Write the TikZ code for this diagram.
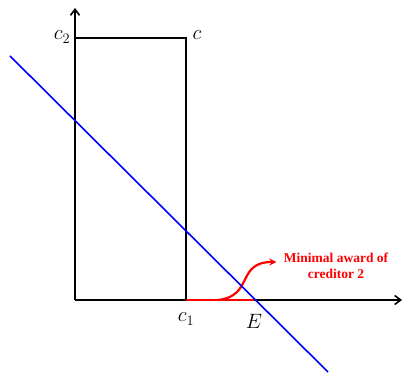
\documentclass[tikz,border=0pt]{standalone}
\usepackage{fontspec}
\newfontfamily\notefont{Liberation Serif}
\usetikzlibrary{arrows.meta}
\begin{document}
\begin{tikzpicture}[x=1pt, y=-1pt]
  % Define styles
  \tikzstyle{axis}=[-{Straight Barb[length=6pt,width=9pt]}, line width=1.6pt, color=black]
  \tikzstyle{edge}=[line width=2pt, color=black]
  \tikzstyle{budget}=[line width=1.6pt, color=blue]
  \tikzstyle{award}=[line width=2.2pt, color=red]
  \tikzstyle{lbl}=[font=\huge, inner sep=1pt]
  \tikzstyle{note}=[font=\notefont\fontsize{13.5}{16}\selectfont\bfseries, text=red, align=center]

  \useasboundingbox (0,0) rectangle (402,374);

  % Points
  \coordinate (O) at (75,300);
  \coordinate (ytip) at (75,8);
  \coordinate (xtip) at (402,300);
  \coordinate (top) at (75,38);
  \coordinate (corner) at (186,38);
  \coordinate (base) at (186,300);
  \coordinate (E) at (254,300);
  \coordinate (lstart) at (10,56);
  \coordinate (lend) at (328,372);
  \coordinate (from) at (218,300);

  % Labels
  \node[lbl] (c2) at (62,37) {$c_2$};
  \node[lbl] (c) at (197,35) {$c$};
  \node[lbl] (c1) at (186,319) {$c_1$};
  \node[lbl] (Elbl) at (254,321) {$E$};
  \node[note] (text) at (336,266) {Minimal award of\\creditor 2};

  % Axes and box
  \draw[axis] (O) -- (ytip);
  \draw[axis] (O) -- (xtip);
  \draw[edge] (top) -- (corner) -- (base);

  % Red part and pointer
  \draw[award] (base) -- (E);
  \draw[award, -{Stealth[length=7pt,width=7pt]}] (from) .. controls (254,296) and (236,262) .. ([xshift=-4pt, yshift=4pt]text.west);

  % Line
  \draw[budget] (lstart) -- (lend);
\end{tikzpicture}
\end{document}
